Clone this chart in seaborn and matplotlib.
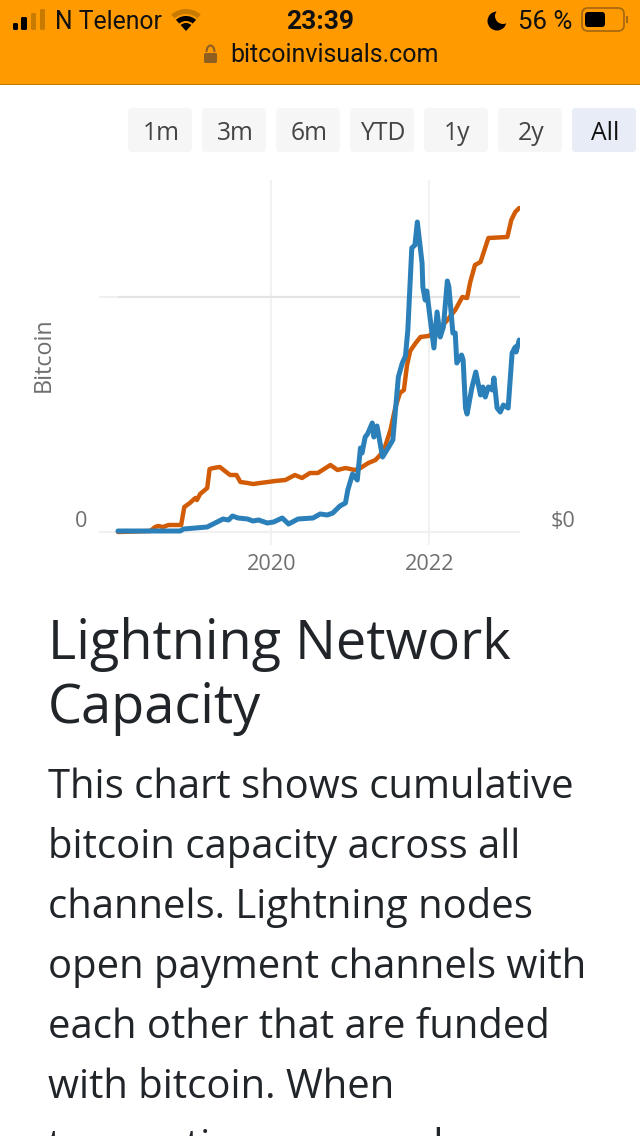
import pandas as pd
import seaborn as sns
import matplotlib
matplotlib.use("Agg")
import matplotlib.pyplot as plt
from matplotlib.patches import Rectangle, FancyBboxPatch, Circle, Wedge, Arc

# Capacity in BTC
btc_dates = [2018.06, 2018.47, 2018.53, 2018.57, 2018.63, 2018.70, 2018.86, 2018.90, 2018.97, 2019.04,
             2019.06, 2019.10, 2019.19, 2019.22, 2019.27, 2019.35, 2019.43, 2019.48, 2019.56, 2019.61,
             2019.70, 2019.77, 2019.86, 2019.96, 2020.05, 2020.18, 2020.30, 2020.39, 2020.49, 2020.59,
             2020.75, 2020.84, 2020.94, 2021.06, 2021.13, 2021.23, 2021.32, 2021.38, 2021.44, 2021.51,
             2021.57, 2021.63, 2021.68, 2021.72, 2021.76, 2021.82, 2021.89, 2021.99, 2022.08, 2022.15,
             2022.23, 2022.33, 2022.42, 2022.48, 2022.52, 2022.58, 2022.65, 2022.75, 2022.99, 2023.04,
             2023.09, 2023.14]
btc_values = [0, 17, 85, 102, 85, 119, 119, 425, 493, 578,
              544, 646, 748, 1071, 1088, 1105, 1020, 969, 969, 850,
              833, 816, 833, 850, 867, 884, 969, 918, 1003, 1003,
              1139, 1054, 1088, 1054, 1088, 1173, 1224, 1309, 1445, 1734,
              2108, 2363, 2414, 2839, 3077, 3196, 3315, 3332, 3400, 3485,
              3604, 3774, 3995, 3978, 4250, 4539, 4590, 4998, 5015, 5304,
              5440, 5508]

# Capacity in USD (millions)
usd_dates = [2018.06, 2018.85, 2018.89, 2019.04, 2019.19, 2019.29, 2019.39, 2019.46, 2019.51, 2019.58,
             2019.70, 2019.77, 2019.84, 2019.95, 2020.03, 2020.14, 2020.22, 2020.34, 2020.53, 2020.62,
             2020.71, 2020.78, 2020.87, 2020.94, 2020.97, 2021.03, 2021.09, 2021.13, 2021.15, 2021.19,
             2021.22, 2021.28, 2021.30, 2021.34, 2021.41, 2021.48, 2021.54, 2021.61, 2021.66, 2021.70,
             2021.73, 2021.78, 2021.82, 2021.85, 2021.91, 2021.92, 2021.95, 2021.97, 2022.01, 2022.06,
             2022.10, 2022.14, 2022.18, 2022.23, 2022.25, 2022.30, 2022.33, 2022.35, 2022.41, 2022.43,
             2022.46, 2022.48, 2022.54, 2022.59, 2022.65, 2022.68, 2022.71, 2022.75, 2022.80, 2022.82,
             2022.86, 2022.90, 2022.94, 2023.00, 2023.05, 2023.09, 2023.10, 2023.14]
usd_values = [0.7, 0.7, 2.1, 2.8, 3.5, 6.3, 9.1, 8.4, 11.2, 9.8,
              9.1, 7.7, 8.4, 6.3, 7.0, 9.8, 5.6, 9.1, 9.8, 12.6,
              11.9, 13.3, 18.2, 20.3, 29.4, 40.6, 36.4, 58.8, 55.3, 66.5,
              68.6, 76.3, 66.5, 74.2, 52.5, 58.8, 64.4, 108.5, 118.3, 123.2,
              141.4, 198.8, 200.9, 217.0, 188.3, 171.5, 162.4, 168.7, 150.5, 128.8,
              154.0, 136.5, 143.5, 175.7, 171.5, 139.3, 139.3, 118.3, 123.9, 120.4,
              86.8, 82.6, 100.8, 112.0, 95.9, 101.5, 94.5, 101.5, 99.4, 107.8,
              86.8, 84.0, 88.9, 86.8, 125.3, 129.5, 126.0, 134.4]

year_ticks = [2020, 2022]
range_buttons = ["1m", "3m", "6m", "YTD", "1y", "2y", "All"]
body_lines = ["This chart shows cumulative", "bitcoin capacity across all", "channels. Lightning nodes",
              "open payment channels with", "each other that are funded", "with bitcoin. When",
              "transactions are made"]

sns.set_theme(style="white")
plt.rcParams['font.family'] = ['Open Sans', 'DejaVu Sans']

fig = plt.figure(figsize=(6.4, 11.36), dpi=100)

# page layer in pixel coordinates
page = fig.add_axes([0, 0, 1, 1])
page.set_xlim(0, 640)
page.set_ylim(1136, 0)
page.axis('off')

page.add_patch(Rectangle((0, 0), 640, 84, color='#ff9a00', lw=0))
page.add_patch(Rectangle((0, 84), 640, 1, color='#c77800', lw=0))

# status bar
for x, w, top, col in [(13, 5, 23, 'black'), (21, 6, 17, 'black'), (31, 5, 13, '#c97a00'), (40, 5, 9, '#c97a00')]:
    page.add_patch(FancyBboxPatch((x, top), w, 30 - top, boxstyle="round,pad=0,rounding_size=1.5", color=col, lw=0))
status = dict(family=['Roboto', 'DejaVu Sans'], va='center', color='#111111')
page.text(55, 22, "N Telenor", fontsize=17.8, ha='left', **status)
page.text(320, 22, "23:39", fontsize=19, ha='center', weight='bold', **status)
page.text(518, 22, "56 %", fontsize=18.6, ha='left', **status)
page.text(334, 55, "bitcoinvisuals.com", fontsize=18, ha='center', **status)

# wifi
page.add_patch(Wedge((186, 31), 22, 228, 312, width=5, color='#c97a00', lw=0))
page.add_patch(Wedge((186, 31), 15, 228, 312, width=5, color='black', lw=0))
page.add_patch(Wedge((186, 31), 8, 228, 312, color='black', lw=0))
# lock
page.add_patch(FancyBboxPatch((204, 53), 13, 10, boxstyle="round,pad=0,rounding_size=1.5", color='#8f5f22', lw=0))
page.add_patch(Arc((210.5, 52), 8, 13, theta1=180, theta2=360, color='#8f5f22', lw=1.5))
# moon
page.add_patch(Circle((497, 21), 9.5, color='black', lw=0))
page.add_patch(Circle((503, 16), 8, color='#ff9a00', lw=0))
# battery
page.add_patch(FancyBboxPatch((582, 8), 42, 23, boxstyle="round,pad=0,rounding_size=6", fc='none', ec='#a86a10', lw=1.3))
page.add_patch(FancyBboxPatch((585, 12), 20, 15, boxstyle="round,pad=0,rounding_size=3", color='black', lw=0))
page.add_patch(Rectangle((626, 16), 1.5, 7, color='#a86a10', lw=0))

# range buttons
for label, x in zip(range_buttons, [128, 202, 276, 350, 424, 498, 572]):
    active = label == "All"
    page.add_patch(FancyBboxPatch((x, 108), 64, 44, boxstyle="round,pad=0,rounding_size=4",
                                  color='#e8ecf6' if active else '#f6f6f6', lw=0))
    page.text(x + 33, 133, label, fontsize=17.8, ha='center', va='center',
              color='#111111' if active else '#444444')

# chart
ax = fig.add_axes([99 / 640, 1 - 545 / 1136, 421 / 640, 365 / 1136])
ax.patch.set_alpha(0)
btc_df = pd.DataFrame({"date": btc_dates, "btc": btc_values})
usd_df = pd.DataFrame({"date": usd_dates, "usd": usd_values})
sns.lineplot(data=btc_df, x="date", y="btc", color='#d25c05', lw=3.2, ax=ax, zorder=3)
ax.set_xlim(2017.82, 2023.15)
ax.set_ylim(-221, 5984)
ax.set_xticks(year_ticks)
ax.set_xticklabels([str(y) for y in year_ticks])
ax.set_yticks([0, 4000])
ax.set_yticklabels(["0", ""], va='bottom')
ax.set_xlabel("")
ax.set_ylabel("")
ax.grid(True, axis='x', color='#f2f2f2', lw=1.5)
ax.grid(True, axis='y', color='#f0f0f0', lw=1.5)
ax.hlines(4000, 2018.06, 2023.15, color='#e4e4e4', lw=1.5, zorder=1)
ax.set_axisbelow(True)
ax.tick_params(axis='x', labelsize=15.6, labelcolor='#6f6f6f', length=0, pad=6.5)
ax.tick_params(axis='y', labelsize=15.6, labelcolor='#6f6f6f', length=0, pad=8.5)
sns.despine(ax=ax, left=True, bottom=True)

ax2 = ax.twinx()
sns.lineplot(data=usd_df, x="date", y="usd", color='#2b80ba', lw=3.6, ax=ax2)
ax2.set_ylim(-9.1, 246.4)
ax2.set_yticks([0])
ax2.set_yticklabels(["$0"], va='bottom')
ax2.set_ylabel("")
ax2.grid(False)
ax2.tick_params(axis='y', labelsize=15.6, labelcolor='#6f6f6f', length=0, pad=22)
sns.despine(ax=ax2, left=True, bottom=True, right=True)

page.text(44, 355, "Bitcoin", fontsize=16.8, rotation=90, ha='center', va='center', color='#6f6f6f')

# article text
page.text(48, 645, "Lightning Network", fontsize=39, ha='left', va='center', color='#212529')
page.text(48, 709, "Capacity", fontsize=39, ha='left', va='center', color='#212529')
for i, line in enumerate(body_lines):
    page.text(48, 788 + 60 * i, line, fontsize=28.8, ha='left', va='center', color='#212529')

fig.savefig("out.png", dpi=100)
plt.close(fig)
